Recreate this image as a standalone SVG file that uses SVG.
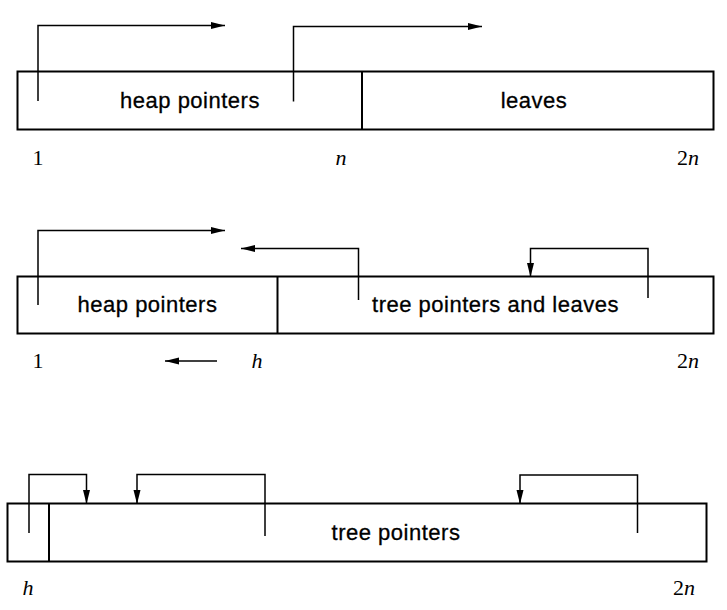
<svg xmlns="http://www.w3.org/2000/svg" width="727" height="610" viewBox="0 0 727 610">
  <defs>
    <marker id="ah" markerWidth="15" markerHeight="8" refX="14" refY="3.5" orient="auto" markerUnits="userSpaceOnUse">
      <path d="M0,0 L14,3.5 L0,7 z" fill="#000"/>
    </marker>
  </defs>
  <style>
    .box { fill: #fff; stroke: #000; stroke-width: 2; }
    .div { stroke: #000; stroke-width: 2; }
    .conn { fill: none; stroke: #000; stroke-width: 1.5; marker-end: url(#ah); }
    .lbl { font-family: "Liberation Sans", Arial, sans-serif; font-size: 22px; letter-spacing: 0.5px; text-anchor: middle; fill: #000; stroke: #000; stroke-width: 0.3; }
    .idx { font-family: "Liberation Serif", "Times New Roman", serif; font-size: 22px; text-anchor: middle; fill: #000; }
    .it { font-style: italic; }
  </style>
  <rect width="727" height="610" fill="#fff"/>

  <g id="array1">
    <rect class="box" x="17.5" y="71.5" width="696" height="58"/>
    <line class="div" x1="362" y1="71.5" x2="362" y2="129.5"/>
  </g>
  <g id="heap-pointers-1"><text class="lbl" x="190" y="108">heap pointers</text></g>
  <g id="leaves-1"><text class="lbl" x="534" y="108">leaves</text></g>
  <g id="labels-1">
    <text class="idx" x="38" y="165">1</text>
    <text class="idx it" x="341" y="165">n</text>
    <text class="idx" x="688" y="165">2<tspan class="it">n</tspan></text>
  </g>

  <g id="array2">
    <rect class="box" x="17.5" y="276.5" width="696" height="57"/>
    <line class="div" x1="277.5" y1="276.5" x2="277.5" y2="333.5"/>
  </g>
  <g id="heap-pointers-2"><text class="lbl" x="147.5" y="312">heap pointers</text></g>
  <g id="tree-leaves-2"><text class="lbl" x="495.5" y="312">tree pointers and leaves</text></g>
  <g id="labels-2">
    <text class="idx" x="38" y="368">1</text>
    <text class="idx it" x="257" y="368">h</text>
    <text class="idx" x="688" y="368">2<tspan class="it">n</tspan></text>
  </g>

  <g id="array3">
    <rect class="box" x="7.5" y="503.5" width="699" height="58"/>
    <line class="div" x1="49" y1="503.5" x2="49" y2="561.5"/>
  </g>
  <g id="tree-pointers-3"><text class="lbl" x="396" y="540">tree pointers</text></g>
  <g id="labels-3">
    <text class="idx it" x="28" y="595">h</text>
    <text class="idx" x="684" y="595">2<tspan class="it">n</tspan></text>
  </g>

  <g id="connectors">
    <path class="conn" d="M38,101 V25.5 H225"/>
    <path class="conn" d="M293.5,101.5 V26.5 H482"/>
    <path class="conn" d="M38,305 V230.5 H225"/>
    <path class="conn" d="M358.5,300 V248.5 H241"/>
    <path class="conn" d="M648,298 V248.5 H530.5 V277"/>
    <path class="conn" d="M217,361 H165"/>
    <path class="conn" d="M29,533 V474.5 H86.5 V504"/>
    <path class="conn" d="M265,536 V474.5 H137 V504"/>
    <path class="conn" d="M637.5,533 V475 H520 V504"/>
  </g>
</svg>
